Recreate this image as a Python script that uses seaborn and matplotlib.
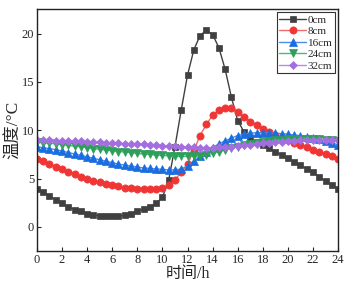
import numpy as np
import pandas as pd
import matplotlib
matplotlib.use('Agg')
import matplotlib.pyplot as plt
import seaborn as sns

# 时间 (h), every half hour
hours = np.arange(0, 24.01, 0.5)

t_0cm = [3.95, 3.6, 3.2, 2.8, 2.45, 2.1, 1.8, 1.6, 1.35, 1.25, 1.15, 1.1, 1.1,
         1.1, 1.2, 1.35, 1.6, 1.85, 2.1, 2.45, 3.05, 4.85, 8.3, 12.1, 15.7,
         18.3, 19.8, 20.35, 19.9, 18.55, 16.3, 13.4, 11.0, 9.85, 9.2, 8.8, 8.5,
         8.15, 7.8, 7.45, 7.1, 6.75, 6.4, 6.0, 5.65, 5.15, 4.75, 4.35, 3.9]
t_8cm = [7.05, 6.78, 6.5, 6.25, 6.0, 5.73, 5.47, 5.2, 4.98, 4.77, 4.6, 4.43, 4.3,
         4.19, 4.08, 4.02, 3.95, 3.95, 3.95, 3.95, 4.05, 4.35, 4.88, 5.65, 6.5,
         7.9, 9.45, 10.6, 11.55, 12.1, 12.3, 12.3, 11.85, 11.35, 10.9, 10.5, 10.15,
         9.85, 9.5, 9.2, 8.95, 8.7, 8.5, 8.25, 8.0, 7.8, 7.55, 7.3, 7.05]
t_16cm = [8.3, 8.2, 8.1, 8.0, 7.85, 7.7, 7.55, 7.4, 7.25, 7.1, 6.95, 6.8, 6.65,
          6.5, 6.4, 6.3, 6.2, 6.1, 6.05, 6.0, 5.95, 5.9, 5.9, 6.0, 6.3,
          6.8, 7.3, 7.8, 8.2, 8.6, 8.9, 9.2, 9.45, 9.6, 9.7, 9.75, 9.75,
          9.7, 9.7, 9.65, 9.6, 9.5, 9.45, 9.35, 9.2, 9.05, 8.9, 8.7, 8.5]
t_24cm = [8.75, 8.7, 8.65, 8.6, 8.5, 8.45, 8.35, 8.3, 8.2, 8.1, 8.05, 7.95, 7.9,
          7.8, 7.75, 7.7, 7.6, 7.55, 7.5, 7.45, 7.4, 7.35, 7.3, 7.3, 7.3,
          7.3, 7.35, 7.45, 7.6, 7.8, 7.95, 8.15, 8.3, 8.45, 8.6, 8.7, 8.8,
          8.85, 8.95, 9.0, 9.05, 9.05, 9.1, 9.1, 9.05, 9.05, 9.0, 8.95, 8.85]
t_32cm = [9.0, 8.98, 8.96, 8.94, 8.92, 8.9, 8.87, 8.84, 8.81, 8.78, 8.75, 8.72, 8.69,
          8.66, 8.63, 8.6, 8.56, 8.53, 8.5, 8.46, 8.42, 8.38, 8.34, 8.3, 8.26,
          8.23, 8.21, 8.2, 8.2, 8.22, 8.25, 8.3, 8.36, 8.43, 8.5, 8.57, 8.64,
          8.7, 8.76, 8.82, 8.87, 8.91, 8.95, 8.97, 8.99, 9.0, 9.0, 9.0, 9.0]

depths = ['0cm', '8cm', '16cm', '24cm', '32cm']
series = [t_0cm, t_8cm, t_16cm, t_24cm, t_32cm]
colors = ['#404040', '#f03535', '#1a6de0', '#2e9e5b', '#a36fe0']
line_colors = ['#404040', '#f06a6a', '#4a8ee8', '#4cb87a', '#b78ae8']
markers = ['s', 'o', '^', 'v', 'D']
msizes = [4.3, 5.2, 5.2, 5.2, 4.3]

sns.set_style('ticks')
plt.rcParams['font.family'] = ['Liberation Serif', 'Noto Sans CJK SC']
plt.rcParams['axes.unicode_minus'] = False

fig = plt.figure(figsize=(3.45, 2.86), dpi=100)
ax = fig.add_axes([0.107, 0.122, 0.873, 0.845])

for name, vals, c, lc, m, ms in zip(depths, series, colors, line_colors, markers, msizes):
    df = pd.DataFrame({'时间': hours, '温度': vals})
    sns.lineplot(data=df, x='时间', y='温度', ax=ax, color=lc, lw=1.0,
                 marker=m, markersize=ms, markerfacecolor=c, markeredgecolor=c,
                 markeredgewidth=0.5, label=name)

ax.set_xlim(0, 24)
ax.set_ylim(-2.5, 22.5)
ax.set_xticks(range(0, 25, 2))
ax.set_yticks([0, 5, 10, 15, 20])
ax.tick_params(direction='in', length=3, width=0.8, labelsize=9, pad=2)
for s in ax.spines.values():
    s.set_linewidth(1.0)
    s.set_color('#222222')

ax.set_xlabel('时间/h', fontsize=11.5, labelpad=0)
ax.set_ylabel('温度/°C', fontsize=12.5, labelpad=0)

leg = ax.legend(loc='upper right', fontsize=8, frameon=True, fancybox=False,
                framealpha=1, edgecolor='#333333', borderpad=0.25,
                labelspacing=0.15, handlelength=2.4, handletextpad=0.15,
                borderaxespad=0.25)
leg.get_frame().set_linewidth(0.8)

fig.savefig('out.png', dpi=100)
